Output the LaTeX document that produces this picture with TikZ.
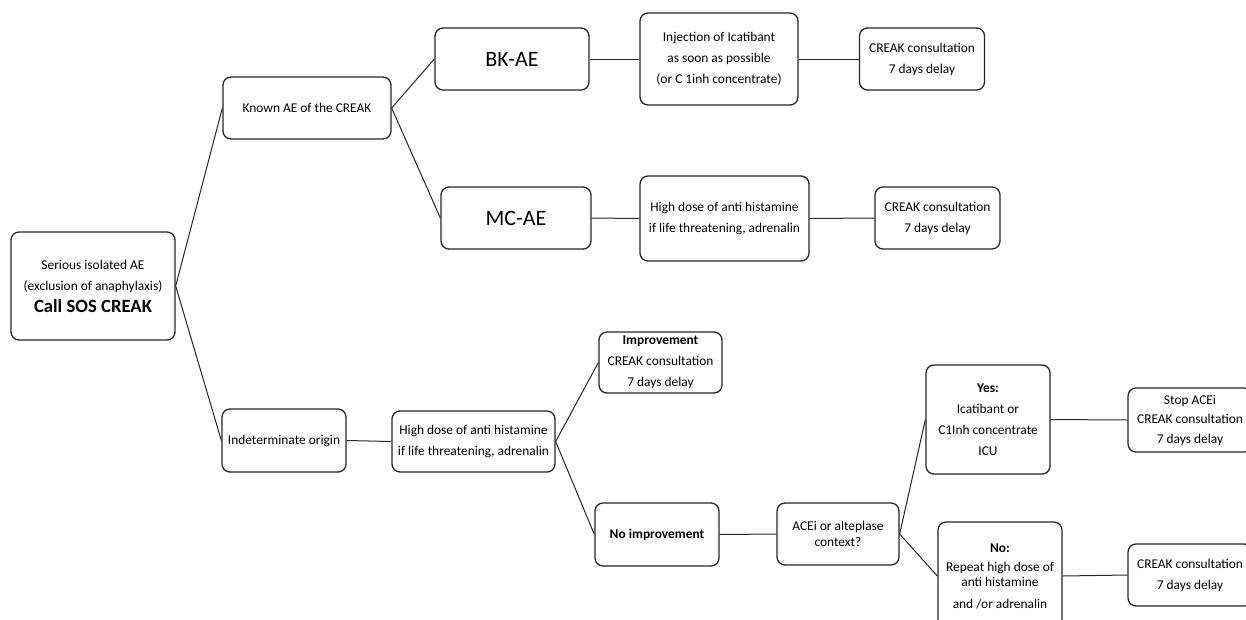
\documentclass[tikz,border=0pt]{standalone}
\usepackage{fontspec}
\setmainfont{Carlito}
\begin{document}
\begin{tikzpicture}[x=1pt,y=-1pt,
  box/.style={draw=black!85, line width=1.3pt, rounded corners=8pt, align=center, inner sep=0pt,
    font=\fontsize{13.4}{21}\selectfont},
  conn/.style={draw=black!85, line width=1pt},
  bigtxt/.style={font=\fontsize{22}{26}\selectfont}]
\useasboundingbox (0,0) rectangle (1246,619);
\clip (0,0) rectangle (1246,619);
\fill[white] (0,0) rectangle (1246,619);

% nodes
\node[box, minimum width=164pt, minimum height=108pt] (root) at (93,286)
  {Serious isolated AE\\(exclusion of anaphylaxis)\\[1pt]{\fontsize{18.7}{22}\selectfont\bfseries Call SOS CREAK}};
\node[box, minimum width=168pt, minimum height=62pt] (known) at (307,108) {Known AE of the CREAK};
\node[box, bigtxt, minimum width=154pt, minimum height=62pt] (bk) at (512,59) {BK-AE};
\node[box, bigtxt, minimum width=150pt, minimum height=62pt] (mc) at (516,218) {MC-AE};
\node[box, minimum width=158pt, minimum height=92pt] (inj) at (719,59)
  {Injection of Icatibant\\as soon as possible\\(or C 1inh concentrate)};
\node[box, minimum width=125pt, minimum height=62pt] (cr1) at (922,59) {CREAK consultation\\7 days delay};
\node[box, minimum width=169pt, minimum height=85pt] (hd1) at (724.5,218.5)
  {High dose of anti histamine\\if life threatening, adrenalin};
\node[box, minimum width=125pt, minimum height=62pt] (cr2) at (937.5,218) {CREAK consultation\\7 days delay};
\node[box, minimum width=124pt, minimum height=63pt] (ind) at (284,440.5) {Indeterminate origin};
\node[box, minimum width=163pt, minimum height=61pt] (hd2) at (473.5,441.5)
  {High dose of anti histamine\\if life threatening, adrenalin};
\node[box, minimum width=123pt, minimum height=61pt] (imp) at (660.5,362.5)
  {\textbf{Improvement}\\CREAK consultation\\7 days delay};
\node[box, minimum width=124pt, minimum height=63pt] (noimp) at (657,534.5) {\textbf{No improvement}};
\node[box, minimum width=122pt, minimum height=62pt, font=\fontsize{13.4}{16}\selectfont] (ace) at (838,534)
  {ACEi or alteplase\\context?};
\node[box, minimum width=124pt, minimum height=109pt] (yes) at (988,419.5)
  {\textbf{Yes:}\\Icatibant or\\C1Inh concentrate\\ICU};
\node[box, minimum width=124pt, minimum height=64pt, font=\fontsize{13.4}{19.5}\selectfont] (stop) at (1190,420)
  {Stop ACEi\\CREAK consultation\\7 days delay};
\node[box, minimum width=124pt, minimum height=108pt, font=\fontsize{13.4}{15}\selectfont] (no) at (1000,576)
  {\textbf{No:}\\[4pt]Repeat high dose of\\anti histamine\\[7pt]and /or adrenalin};
\node[box, minimum width=124pt, minimum height=62pt] (cr3) at (1190,575) {CREAK consultation\\7 days delay};

% connectors
\draw[conn] (root.east) -- (known.west);
\draw[conn] (root.east) -- (ind.west);
\draw[conn] (known.east) -- (bk.west);
\draw[conn] (known.east) -- (mc.west);
\draw[conn] (bk.east) -- (inj.west);
\draw[conn] (inj.east) -- (cr1.west);
\draw[conn] (mc.east) -- (hd1.west);
\draw[conn] (hd1.east) -- (cr2.west);
\draw[conn] (ind.east) -- (hd2.west);
\draw[conn] (hd2.east) -- (imp.west);
\draw[conn] (hd2.east) -- (noimp.west);
\draw[conn] (noimp.east) -- (ace.west);
\draw[conn] (ace.east) -- (yes.west);
\draw[conn] (ace.east) -- (no.west);
\draw[conn] (yes.east) -- (stop.west);
\draw[conn] (no.east) -- (cr3.west);
\end{tikzpicture}
\end{document}
